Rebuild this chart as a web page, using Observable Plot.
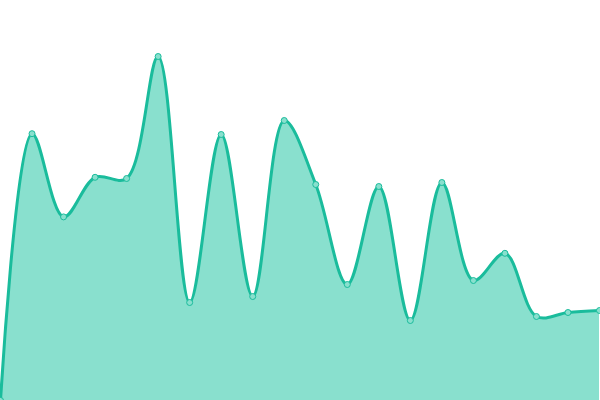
<!DOCTYPE html>
<html>
<head>
<meta charset="utf-8">
<script src="https://cdn.jsdelivr.net/npm/d3@7"></script>
<script src="https://cdn.jsdelivr.net/npm/@observablehq/plot@0.6"></script>
<style>
  html, body { margin: 0; padding: 0; background: #fff; }
  #chart svg { display: block; }
</style>
</head>
<body>
<div id="chart"></div>
<script>
const indices = [0,1,2,3,4,5,6,7,8,9,10,11,12,13,14,15,16,17,18,19];
const values = [0, 66.7, 45.9, 55.8, 55.5, 86, 24.5, 66.5, 26, 70, 54, 29, 53.5, 20, 54.5, 30, 36.8, 21, 22, 22.5];

const data = indices.map((i, k) => ({x: i, y: values[k]}));

const lineColor = "#1abc9c";
const fillColor = "#89e0ce";

const chart = Plot.plot({
  width: 600,
  height: 400,
  marginTop: 0,
  marginBottom: 0,
  marginLeft: 0,
  marginRight: 1,
  x: {domain: [0, 19], axis: null},
  y: {domain: [0, 100], axis: null},
  marks: [
    Plot.areaY(data, {x: "x", y: "y", curve: "catmull-rom", fill: fillColor}),
    Plot.lineY(data, {x: "x", y: "y", curve: "catmull-rom", stroke: lineColor, strokeWidth: 3}),
    Plot.dot(data, {x: "x", y: "y", r: 3, fill: fillColor, stroke: lineColor, strokeWidth: 1})
  ]
});
document.getElementById("chart").appendChild(chart);
</script>
</body>
</html>
